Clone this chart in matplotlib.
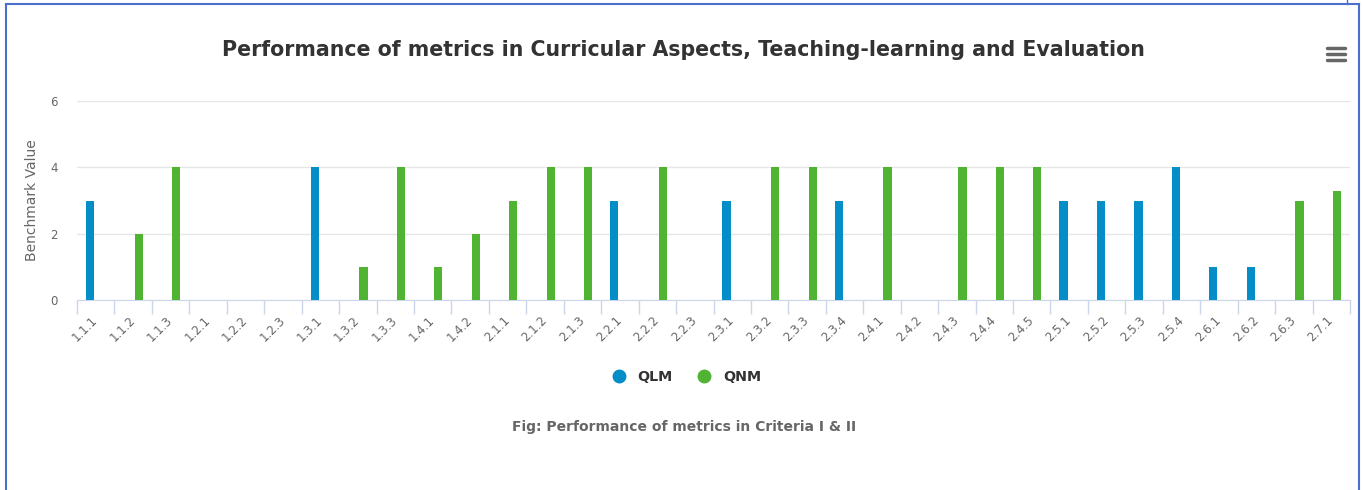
import matplotlib.pyplot as plt
from matplotlib.lines import Line2D
import numpy as np

# Chart data
categories = ['1.1.1', '1.1.2', '1.1.3', '1.2.1', '1.2.2', '1.2.3', '1.3.1', '1.3.2', '1.3.3',
              '1.4.1', '1.4.2', '2.1.1', '2.1.2', '2.1.3', '2.2.1', '2.2.2', '2.2.3', '2.3.1',
              '2.3.2', '2.3.3', '2.3.4', '2.4.1', '2.4.2', '2.4.3', '2.4.4', '2.4.5', '2.5.1',
              '2.5.2', '2.5.3', '2.5.4', '2.6.1', '2.6.2', '2.6.3', '2.7.1']
qlm = [3, 0, 0, 0, 0, 0, 4, 0, 0, 0, 0, 0, 0, 0, 3, 0, 0, 3,
       0, 0, 3, 0, 0, 0, 0, 0, 3, 3, 3, 4, 1, 1, 0, 0]
qnm = [0, 2, 4, 0, 0, 0, 0, 1, 4, 1, 2, 3, 4, 4, 0, 4, 0, 0,
       4, 4, 0, 4, 0, 4, 4, 4, 0, 0, 0, 0, 0, 0, 3, 3.3]
y_ticks = [0, 2, 4, 6]

W, H = 1363, 490
fig = plt.figure(figsize=(W / 100, H / 100), dpi=100)
ax = fig.add_axes([77 / W, 1 - 300 / H, (1350 - 77) / W, 199 / H])

x = np.arange(len(categories))
ax.bar(x - 0.15, qlm, width=0.22, color='#058dc7', label='QLM', zorder=3)
ax.bar(x + 0.15, qnm, width=0.22, color='#50b432', label='QNM', zorder=3)

ax.set_xlim(-0.5, len(categories) - 0.5)
ax.set_ylim(0, 6)
ax.set_yticks(y_ticks)
ax.yaxis.grid(True, color='#e6e6e6', linewidth=1)
ax.set_axisbelow(True)
for s in ['top', 'right', 'left']:
    ax.spines[s].set_visible(False)
ax.spines['bottom'].set_color('#ccd6eb')
ax.tick_params(axis='y', length=0, labelcolor='#666666', labelsize=8.5, pad=14)

# category labels between boundary ticks
ax.set_xticks(np.arange(len(categories) + 1) - 0.5)
ax.set_xticklabels([])
ax.tick_params(axis='x', length=10, color='#ccd6eb', width=1)
ax.set_xticks(x, minor=True)
ax.set_xticklabels(categories, minor=True, rotation=45, ha='right', va='center',
                   rotation_mode='anchor', color='#666666', fontsize=8.5)
ax.tick_params(axis='x', which='minor', length=0, pad=13)

ax.set_ylabel('Benchmark Value', color='#666666', fontsize=10, labelpad=8)

fig.text(683 / W, 1 - 50 / H,
         'Performance of metrics in Curricular Aspects, Teaching-learning and Evaluation',
         ha='center', va='center', fontsize=14.8, fontweight='bold', color='#333333')

leg = fig.legend(loc='center', bbox_to_anchor=(683 / W, 1 - 377 / H), ncol=2, frameon=False,
                 handles=[Line2D([], [], marker='o', ls='', color='#058dc7', markersize=9),
                          Line2D([], [], marker='o', ls='', color='#50b432', markersize=9)],
                 labels=['QLM', 'QNM'], handletextpad=0.3, columnspacing=1.2,
                 prop={'weight': 'bold', 'size': 10.3})
for t in leg.get_texts():
    t.set_color('#333333')

fig.text(684 / W, 1 - 427 / H, 'Fig: Performance of metrics in Criteria I & II',
         ha='center', va='center', fontsize=10, fontweight='bold', color='#666666')

# menu icon
for yy in [48, 54, 60]:
    fig.add_artist(Line2D([1327 / W, 1345 / W], [1 - yy / H] * 2, color='#666666',
                          linewidth=2.5, solid_capstyle='round'))

# page frame
frame = '#4a70cc'
fig.add_artist(Line2D([6 / W, 6 / W], [0, 1 - 4 / H], color=frame, linewidth=1.5))
fig.add_artist(Line2D([6 / W, 1359 / W], [1 - 4 / H] * 2, color=frame, linewidth=1.5))
fig.add_artist(Line2D([1359 / W, 1359 / W], [0, 1 - 4 / H], color=frame, linewidth=1.5))
fig.add_artist(Line2D([1347 / W, 1347 / W], [1 - 4 / H, 1], color=frame, linewidth=1))

plt.savefig('out.png', dpi=100)
